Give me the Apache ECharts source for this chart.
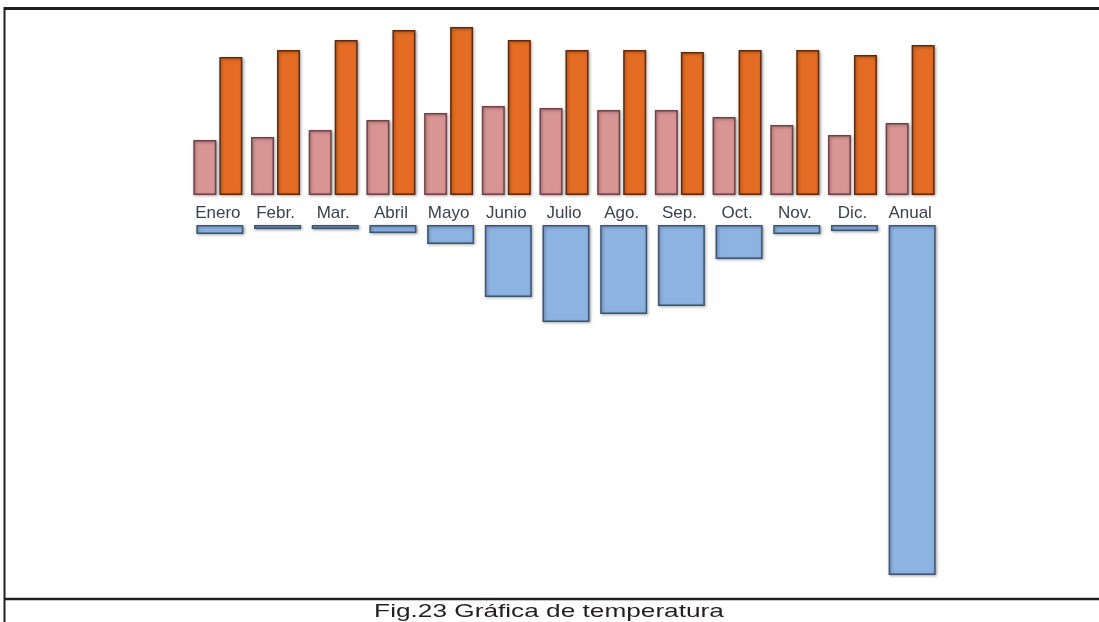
<!DOCTYPE html>
<html>
<head>
<meta charset="utf-8">
<script src="https://cdn.jsdelivr.net/npm/echarts@6/dist/echarts.min.js"></script>
<style>
html,body{margin:0;padding:0;background:#fff;}
#chart{width:1099px;height:622px;}
</style>
</head>
<body>
<div id="chart"></div>
<script>
// Categories
var categories = ['Enero','Febr.','Mar.','Abril','Mayo','Junio','Julio','Ago.','Sep.','Oct.','Nov.','Dic.','Anual'];
// Upper series (pink, lower values)
var serieRosa = [11.0, 11.6, 13.0, 15.0, 16.4, 17.8, 17.4, 17.0, 17.0, 15.6, 14.0, 12.0, 14.4];
// Upper series (orange, higher values)
var serieNaranja = [27.6, 29.0, 31.0, 33.0, 33.6, 31.0, 29.0, 29.0, 28.6, 29.0, 29.0, 28.0, 30.0];
// Lower series (blue, hanging bars)
var serieAzul = [9, 4, 4, 8, 19, 72, 97, 89, 81, 34, 9, 6, 350];
var caption = 'Fig.23 Gráfica de temperatura';

var chart = echarts.init(document.getElementById('chart'), null, {renderer:'canvas'});
var shadow = {shadowBlur:3, shadowColor:'rgba(0,0,0,0.35)', shadowOffsetX:1, shadowOffsetY:1};

var option = {
  animation:false,
  backgroundColor:'#ffffff',
  grid:[
    {left:189, right:160, top:25, height:170},
    {left:191, right:158, top:225, height:360}
  ],
  xAxis:[
    {type:'category', gridIndex:0, data:categories, position:'bottom',
     axisLine:{show:false}, axisTick:{show:false}, splitLine:{show:false},
     axisLabel:{show:true, interval:0, margin:10, color:'#3b3f4f',
       fontFamily:'Liberation Sans, Arial, sans-serif', fontSize:17}},
    {type:'category', gridIndex:1, data:categories, show:false}
  ],
  yAxis:[
    {type:'value', gridIndex:0, min:0, max:34, show:false, splitLine:{show:false}},
    {type:'value', gridIndex:1, min:0, max:360, inverse:true, show:false, splitLine:{show:false}}
  ],
  series:[
    {type:'bar', name:'rosa', xAxisIndex:0, yAxisIndex:0, data:serieRosa,
     barWidth:23, barGap:'13%',
     itemStyle:Object.assign({color:'#d99594', borderColor:'#6e4347', borderWidth:1.5}, shadow)},
    {type:'bar', name:'naranja', xAxisIndex:0, yAxisIndex:0, data:serieNaranja,
     barWidth:23, barGap:'13%',
     itemStyle:Object.assign({color:'#e46c24', borderColor:'#5c2a0c', borderWidth:1.5}, shadow)},
    {type:'bar', name:'azul', xAxisIndex:1, yAxisIndex:1, data:serieAzul,
     barWidth:47,
     itemStyle:Object.assign({color:'#8db3e2', borderColor:'#3d5573', borderWidth:1.5}, shadow)}
  ],
  graphic:[
    {type:'line', shape:{x1:4, y1:8.5, x2:1099, y2:8.5}, style:{stroke:'#231f20', lineWidth:3}, silent:true},
    {type:'line', shape:{x1:4.5, y1:7, x2:4.5, y2:622}, style:{stroke:'#231f20', lineWidth:2}, silent:true},
    {type:'line', shape:{x1:4, y1:599, x2:1099, y2:599}, style:{stroke:'#231f20', lineWidth:2.5}, silent:true},
    {type:'text', x:549, y:612, scaleX:1.38, silent:true,
     style:{text:caption, fill:'#231f20', font:'19px "Liberation Sans", Arial, sans-serif',
            textAlign:'center', textVerticalAlign:'middle', align:'center', verticalAlign:'middle'}}
  ]
};
chart.setOption(option);
</script>
</body>
</html>
